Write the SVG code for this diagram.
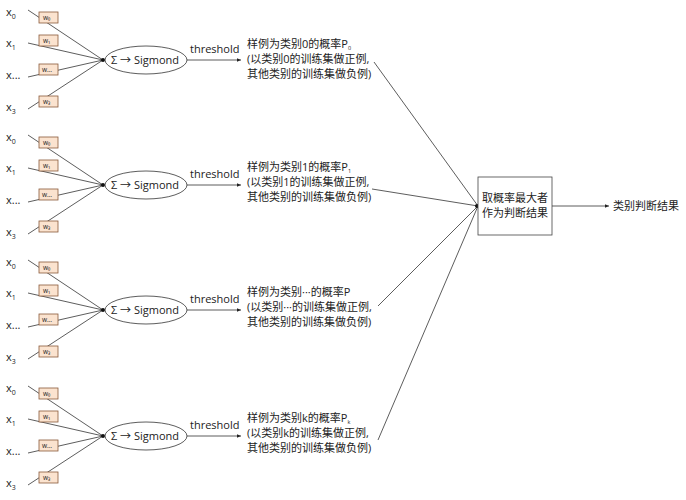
<svg xmlns="http://www.w3.org/2000/svg" width="686" height="500" viewBox="0 0 686 500">
<defs>
<style>
text{font-family:"Open Sans","Noto Sans CJK SC",sans-serif;fill:#222;font-size:11px}
.l{stroke:#333;stroke-width:0.8;fill:none}
.w{fill:#fbe3cf;stroke:#8a5a3a;stroke-width:0.8}
.wt{font-size:6.5px}
.cn{font-size:11px}
</style>
<marker id="a" markerWidth="6" markerHeight="6" refX="5" refY="3" orient="auto"><path d="M0,0.8L5,3L0,5.2Z" fill="#222"/></marker>
<g id="blk">
<line class="l" x1="28" y1="10" x2="103" y2="60"/>
<line class="l" x1="28" y1="43" x2="103" y2="60"/>
<line class="l" x1="28" y1="77" x2="103" y2="60"/>
<line class="l" x1="28" y1="109" x2="103" y2="60"/>
<rect class="w" x="39" y="12" width="19" height="11"/><text class="wt" x="43" y="20">w₀</text>
<rect class="w" x="39" y="35" width="19" height="11"/><text class="wt" x="43" y="43">w₁</text>
<rect class="w" x="39" y="64" width="19" height="11"/><text class="wt" x="42" y="72">w…</text>
<rect class="w" x="39" y="96" width="19" height="11"/><text class="wt" x="43" y="104">w₃</text>
<text x="6" y="16">x<tspan font-size="7" dy="3">0</tspan></text>
<text x="6" y="47">x<tspan font-size="7" dy="3">1</tspan></text>
<text x="6" y="79">x...</text>
<text x="6" y="111">x<tspan font-size="7" dy="3">3</tspan></text>
<circle cx="103" cy="60" r="2" fill="#111"/>
<ellipse cx="146" cy="60" rx="41" ry="14" fill="#fff" stroke="#333" stroke-width="0.8"/>
<line class="l" x1="187" y1="60" x2="241" y2="60" marker-end="url(#a)"/>
<text x="190" y="53">threshold</text>
</g>
</defs>
<g id="n1"><use href="#blk"/><text x="111" y="64">Σ → Sigmond</text>
<text class="cn" x="247" y="48">样例为类别0的概率P<tspan font-size="5.5" dy="1.5">0</tspan></text>
<text class="cn" x="247" y="63">(以类别0的训练集做正例,</text>
<text class="cn" x="247" y="78">其他类别的训练集做负例)</text></g>
<g id="n2" transform="translate(0,125)"><use href="#blk"/><text x="111" y="64">Σ → Sigmond</text>
<text class="cn" x="247" y="46">样例为类别1的概率P<tspan font-size="5.5" dy="1.5">1</tspan></text>
<text class="cn" x="247" y="61">(以类别1的训练集做正例,</text>
<text class="cn" x="247" y="76">其他类别的训练集做负例)</text></g>
<g id="n3" transform="translate(0,250)"><use href="#blk"/><text x="111" y="64">Σ → Sigmond</text>
<text class="cn" x="247" y="46">样例为类别···的概率P</text>
<text class="cn" x="247" y="61">(以类别···的训练集做正例,</text>
<text class="cn" x="247" y="76">其他类别的训练集做负例)</text></g>
<g id="n4" transform="translate(0,376)"><use href="#blk"/><text x="111" y="64">Σ → Sigmond</text>
<text class="cn" x="247" y="46">样例为类别k的概率P<tspan font-size="5.5" dy="1.5">k</tspan></text>
<text class="cn" x="247" y="61">(以类别k的训练集做正例,</text>
<text class="cn" x="247" y="76">其他类别的训练集做负例)</text></g>
<g id="connectors">
<line class="l" x1="374" y1="62" x2="478" y2="206"/>
<line class="l" x1="372" y1="189" x2="478" y2="206"/>
<line class="l" x1="378" y1="306" x2="478" y2="206"/>
<line class="l" x1="378" y1="440" x2="478" y2="206"/>
<circle cx="477" cy="206" r="2" fill="#111"/>
<line class="l" x1="552" y1="206" x2="609" y2="206" marker-end="url(#a)"/>
</g>
<g id="box"><rect x="478" y="177" width="74" height="58" fill="#fff" stroke="#444" stroke-width="0.8"/>
<text class="cn" x="482" y="202">取概率最大者</text>
<text class="cn" x="482" y="217">作为判断结果</text></g>
<g id="res"><text class="cn" x="613" y="210">类别判断结果</text></g>
</svg>
